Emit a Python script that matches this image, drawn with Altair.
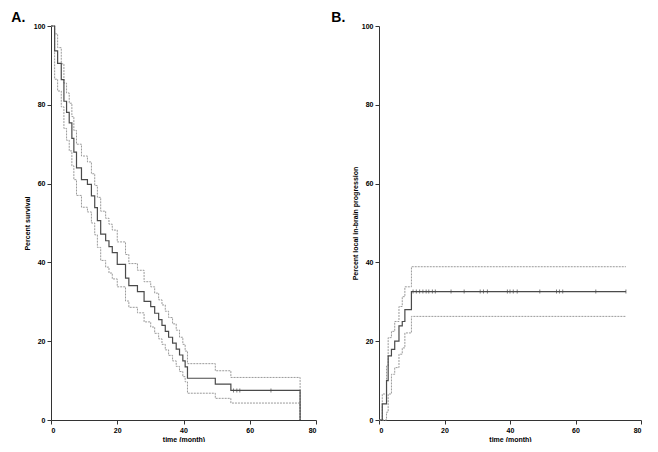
import altair as alt
import pandas as pd

# ---------------- Panel A: overall survival (Kaplan-Meier) ----------------
a_time = [0, 1.1, 2.0, 3.1, 3.9, 4.7, 5.5, 6.3, 6.9, 7.7, 9.2, 11.0, 12.2, 13.2, 14.0, 15.0,
          16.5, 17.5, 18.5, 20.0, 22.5, 23.5, 26.1, 28.1, 30.1, 31.3, 32.5, 33.5, 34.5, 35.5,
          36.7, 37.8, 38.8, 39.8, 40.5, 41.2, 49.6, 54.3, 75.2]
a_surv = [100, 93.7, 90.5, 86.4, 80.9, 78.1, 75.4, 71.5, 68.0, 64.0, 61.0, 59.8, 56.9, 53.9, 50.6, 47.2,
          45.5, 44.0, 42.5, 39.5, 36.0, 34.1, 32.6, 30.1, 28.8, 27.1, 25.5, 24.0, 22.5, 21.0,
          19.5, 18.0, 16.5, 15.0, 13.5, 10.6, 9.1, 7.5, 0]
a_upper = [100, 98.0, 94.5, 90.4, 85.5, 83.0, 80.4, 77.0, 73.5, 70.0, 67.0, 65.5, 62.5, 59.5, 56.5, 53.0,
           51.2, 49.7, 48.2, 45.2, 42.0, 39.7, 38.0, 35.1, 33.8, 32.2, 30.5, 29.2, 27.6, 26.0,
           24.4, 22.8, 21.0, 19.2, 17.5, 14.3, 12.5, 10.8, 0]
a_lower = [100, 86.5, 83.5, 79.5, 74.0, 71.0, 68.3, 64.5, 61.0, 57.0, 54.0, 52.8, 50.0, 47.0, 43.8, 40.5,
           38.8, 37.3, 35.8, 33.8, 30.2, 28.6, 27.2, 24.9, 23.6, 22.0, 20.6, 19.2, 17.8, 16.4,
           15.0, 13.6, 12.3, 11.0, 9.7, 6.8, 5.5, 4.3, 0]
a_cens_t = [55.1, 56.1, 57.0, 66.4]
a_cens_v = [7.5, 7.5, 7.5, 7.5]

# ---------------- Panel B: local in-brain progression ----------------
b_time = [0, 1.0, 2.3, 2.8, 3.8, 4.8, 6.1, 7.1, 7.9, 9.9, 75.4]
b_prog = [0, 4.1, 10.0, 16.3, 17.9, 20.0, 23.9, 25.0, 28.0, 32.6, 32.6]
b_upper = [0, 6.6, 13.7, 20.9, 22.5, 25.0, 28.8, 31.3, 33.8, 38.9, 38.9]
b_lower = [0, 0, 2.0, 6.6, 11.6, 13.3, 16.7, 18.3, 22.1, 26.3, 26.3]
b_cens_t = [10.4, 11.4, 12.4, 13.4, 14.4, 15.2, 16.3, 17.2, 22.0, 26.0, 30.9, 31.9, 33.1,
            39.2, 40.0, 41.0, 42.2, 49.1, 54.2, 55.1, 56.1, 66.2, 75.4]
b_cens_v = [32.6] * len(b_cens_t)

x_ticks = [0, 20, 40, 60, 80]
y_ticks = [0, 20, 40, 60, 80, 100]

FONT = "Liberation Sans"
SOLID = "#4a4a4a"
DASH = "#9a9a9a"


def panel(times, est, up, lo, ct, cv, ytitle, label, dx, w):
    d_est = pd.DataFrame({"t": times, "v": est})
    d_up = pd.DataFrame({"t": times, "v": up})
    d_lo = pd.DataFrame({"t": times, "v": lo})
    d_c = pd.DataFrame({"t": ct, "v": cv})
    x = alt.X("t:Q", scale=alt.Scale(domain=[0, 80], nice=False, zero=True),
              axis=alt.Axis(values=x_ticks, title="time (month)", labelPadding=2, titlePadding=2))
    y = alt.Y("v:Q", scale=alt.Scale(domain=[0, 100], nice=False),
              axis=alt.Axis(values=y_ticks, title=ytitle, labelPadding=2, titlePadding=3))
    up_l = alt.Chart(d_up).mark_line(interpolate="step-after", color=DASH, strokeWidth=1,
                                     strokeDash=[2, 1]).encode(x=x, y=y)
    lo_l = alt.Chart(d_lo).mark_line(interpolate="step-after", color=DASH, strokeWidth=1,
                                     strokeDash=[2, 1]).encode(x=x, y=y)
    est_l = alt.Chart(d_est).mark_line(interpolate="step-after", color=SOLID,
                                       strokeWidth=1.2).encode(x=x, y=y)
    cens = alt.Chart(d_c).mark_tick(orient="vertical", size=4, thickness=1,
                                    color=SOLID).encode(x=x, y=y)
    return alt.layer(up_l, lo_l, est_l, cens).properties(
        width=w, height=394,
        title=alt.TitleParams(label, anchor="start", fontSize=14, fontWeight="bold",
                              font=FONT, color="black", dx=dx, offset=-3),
    )


pa = panel(a_time, a_surv, a_upper, a_lower, a_cens_t, a_cens_v, "Percent survival", "A.", -12, 265)
pb = panel(b_time, b_prog, b_upper, b_lower, b_cens_t, b_cens_v,
           "Percent local in-brain progression", "B.", -20, 262)

chart = alt.hconcat(pa, pb, spacing=14).properties(
    padding={"left": 3, "top": 3, "right": 0, "bottom": 0}
).configure_view(stroke=None).configure_axis(
    grid=False,
    labelFont=FONT, labelFontSize=7, labelFontWeight="bold", labelColor="black",
    titleFont=FONT, titleFontSize=7, titleFontWeight="bold", titleColor="black",
    domainColor="#333333", tickColor="#333333", tickSize=4, domainWidth=1, tickWidth=1,
)

chart.save("out.html", embed_options={"renderer": "svg", "actions": False})
